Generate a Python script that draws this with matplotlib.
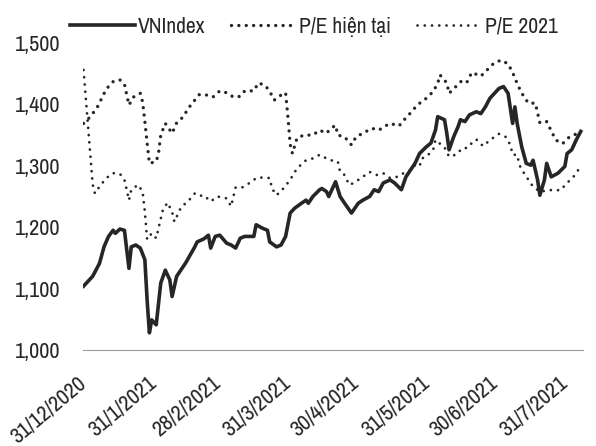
import pandas as pd
import matplotlib.pyplot as plt

plt.rcParams['font.family'] = ['Archivo Narrow', 'DejaVu Sans']

# VNIndex
vn_dates = ['2020-12-31', '2021-01-04', '2021-01-07', '2021-01-09', '2021-01-11', '2021-01-13',
            '2021-01-14', '2021-01-16', '2021-01-18', '2021-01-20', '2021-01-21', '2021-01-23',
            '2021-01-25', '2021-01-27', '2021-01-28', '2021-01-29', '2021-01-30', '2021-02-01',
            '2021-02-03', '2021-02-05', '2021-02-07', '2021-02-08', '2021-02-10', '2021-02-14',
            '2021-02-18', '2021-02-19', '2021-02-22', '2021-02-24', '2021-02-25', '2021-02-27',
            '2021-03-01', '2021-03-04', '2021-03-06', '2021-03-08', '2021-03-10', '2021-03-12',
            '2021-03-16', '2021-03-17', '2021-03-20', '2021-03-22', '2021-03-23', '2021-03-26',
            '2021-03-28', '2021-03-30', '2021-04-01', '2021-04-03', '2021-04-06', '2021-04-08',
            '2021-04-09', '2021-04-11', '2021-04-14', '2021-04-15', '2021-04-17', '2021-04-18',
            '2021-04-21', '2021-04-23', '2021-04-25', '2021-04-28', '2021-05-01', '2021-05-03',
            '2021-05-06', '2021-05-08', '2021-05-10', '2021-05-12', '2021-05-15', '2021-05-17',
            '2021-05-20', '2021-05-22', '2021-05-24', '2021-05-26', '2021-05-28', '2021-05-31',
            '2021-06-02', '2021-06-04', '2021-06-05', '2021-06-08', '2021-06-09', '2021-06-10',
            '2021-06-12', '2021-06-14', '2021-06-15', '2021-06-17', '2021-06-19', '2021-06-22',
            '2021-06-24', '2021-06-26', '2021-06-28', '2021-06-30', '2021-07-02', '2021-07-04',
            '2021-07-06', '2021-07-08', '2021-07-09', '2021-07-10', '2021-07-12', '2021-07-14',
            '2021-07-16', '2021-07-17', '2021-07-19', '2021-07-20', '2021-07-22', '2021-07-23',
            '2021-07-25', '2021-07-28', '2021-07-31', '2021-08-01', '2021-08-03', '2021-08-05',
            '2021-08-07']
vn_values = [1104, 1120, 1141, 1168, 1185, 1195,
             1190, 1197, 1195, 1133, 1168, 1171,
             1166, 1147, 1081, 1028, 1049, 1041,
             1109, 1130, 1114, 1087, 1120, 1142,
             1168, 1176, 1181, 1187, 1166, 1185,
             1187, 1174, 1171, 1166, 1182, 1185,
             1185, 1204, 1198, 1195, 1176, 1168,
             1171, 1185, 1223, 1231, 1239, 1244,
             1239, 1250, 1261, 1263, 1258, 1250,
             1274, 1250, 1239, 1223, 1239, 1244,
             1250, 1261, 1258, 1272, 1277, 1272,
             1261, 1282, 1293, 1304, 1320, 1331,
             1337, 1358, 1380, 1375, 1353, 1326,
             1347, 1364, 1375, 1372, 1383, 1388,
             1385, 1396, 1410, 1418, 1426, 1429,
             1418, 1369, 1396, 1369, 1331, 1304,
             1301, 1309, 1277, 1252, 1277, 1304,
             1282, 1288, 1299, 1320, 1326, 1342,
             1356]

# P/E hien tai
pe_now_dates = ['2020-12-31', '2021-01-03', '2021-01-06', '2021-01-08', '2021-01-10', '2021-01-13',
                '2021-01-16', '2021-01-18', '2021-01-19', '2021-01-20', '2021-01-22', '2021-01-25',
                '2021-01-26', '2021-01-27', '2021-01-28', '2021-01-29', '2021-02-01', '2021-02-02',
                '2021-02-03', '2021-02-05', '2021-02-08', '2021-02-10', '2021-02-13', '2021-02-15',
                '2021-02-18', '2021-02-20', '2021-02-24', '2021-02-26', '2021-03-01', '2021-03-04',
                '2021-03-07', '2021-03-10', '2021-03-12', '2021-03-16', '2021-03-18', '2021-03-21',
                '2021-03-23', '2021-03-25', '2021-03-29', '2021-03-30', '2021-03-31', '2021-04-01',
                '2021-04-02', '2021-04-04', '2021-04-07', '2021-04-11', '2021-04-14', '2021-04-17',
                '2021-04-19', '2021-04-21', '2021-04-22', '2021-04-25', '2021-04-28', '2021-04-30',
                '2021-05-03', '2021-05-07', '2021-05-10', '2021-05-13', '2021-05-15', '2021-05-19',
                '2021-05-21', '2021-05-24', '2021-05-27', '2021-05-31', '2021-06-03', '2021-06-05',
                '2021-06-06', '2021-06-09', '2021-06-10', '2021-06-13', '2021-06-16', '2021-06-18',
                '2021-06-20', '2021-06-24', '2021-06-27', '2021-06-30', '2021-07-03', '2021-07-06',
                '2021-07-08', '2021-07-10', '2021-07-11', '2021-07-13', '2021-07-15', '2021-07-18',
                '2021-07-19', '2021-07-20', '2021-07-23', '2021-07-25', '2021-07-27', '2021-07-30',
                '2021-08-02', '2021-08-07']
pe_now_values = [1369, 1380, 1395, 1410, 1425, 1437,
                 1440, 1433, 1416, 1399, 1412, 1418,
                 1404, 1372, 1337, 1304, 1307, 1320,
                 1350, 1369, 1353, 1370, 1380, 1393,
                 1407, 1416, 1415, 1412, 1422, 1419,
                 1412, 1413, 1422, 1422, 1435, 1431,
                 1421, 1407, 1418, 1419, 1380, 1335,
                 1320, 1345, 1350, 1350, 1358, 1353,
                 1361, 1366, 1350, 1347, 1334, 1347,
                 1353, 1361, 1358, 1365, 1369, 1365,
                 1374, 1386, 1399, 1410, 1421, 1434,
                 1448, 1435, 1418, 1429, 1440, 1437,
                 1452, 1446, 1457, 1468, 1472, 1466,
                 1452, 1434, 1426, 1412, 1402, 1402,
                 1386, 1370, 1372, 1357, 1342, 1336,
                 1347, 1355]

# P/E 2021
pe_21_dates = ['2020-12-31', '2021-01-04', '2021-01-05', '2021-01-07', '2021-01-10', '2021-01-13',
               '2021-01-16', '2021-01-18', '2021-01-19', '2021-01-20', '2021-01-21', '2021-01-24',
               '2021-01-26', '2021-01-27', '2021-01-28', '2021-01-30', '2021-02-01', '2021-02-02',
               '2021-02-03', '2021-02-04', '2021-02-06', '2021-02-08', '2021-02-09', '2021-02-12',
               '2021-02-15', '2021-02-18', '2021-02-20', '2021-02-22', '2021-02-25', '2021-02-28',
               '2021-03-04', '2021-03-06', '2021-03-07', '2021-03-08', '2021-03-11', '2021-03-15',
               '2021-03-17', '2021-03-20', '2021-03-23', '2021-03-24', '2021-03-26', '2021-03-29',
               '2021-04-01', '2021-04-03', '2021-04-06', '2021-04-08', '2021-04-11', '2021-04-14',
               '2021-04-17', '2021-04-19', '2021-04-22', '2021-04-23', '2021-04-25', '2021-04-27',
               '2021-04-29', '2021-05-03', '2021-05-06', '2021-05-09', '2021-05-12', '2021-05-15',
               '2021-05-18', '2021-05-21', '2021-05-24', '2021-05-26', '2021-05-28', '2021-05-29',
               '2021-05-31', '2021-06-03', '2021-06-04', '2021-06-08', '2021-06-10', '2021-06-13',
               '2021-06-16', '2021-06-18', '2021-06-20', '2021-06-22', '2021-06-25', '2021-06-28',
               '2021-07-02', '2021-07-05', '2021-07-07', '2021-07-08', '2021-07-10', '2021-07-11',
               '2021-07-13', '2021-07-15', '2021-07-17', '2021-07-20', '2021-07-26', '2021-07-29',
               '2021-08-01', '2021-08-04', '2021-08-07']
pe_21_values = [1456, 1270, 1255, 1266, 1280, 1288,
                1287, 1277, 1261, 1244, 1261, 1269,
                1258, 1225, 1180, 1190, 1182, 1198,
                1214, 1229, 1240, 1225, 1209, 1233,
                1242, 1255, 1251, 1252, 1242, 1250,
                1247, 1234, 1250, 1265, 1265, 1274,
                1280, 1281, 1280, 1263, 1252, 1263,
                1277, 1290, 1303, 1309, 1312, 1318,
                1312, 1309, 1307, 1290, 1285, 1269,
                1272, 1282, 1290, 1285, 1288, 1280,
                1282, 1288, 1293, 1301, 1299, 1312,
                1315, 1326, 1342, 1330, 1315, 1318,
                1329, 1329, 1337, 1343, 1332, 1342,
                1352, 1347, 1334, 1318, 1318, 1301,
                1288, 1277, 1266, 1258, 1261, 1260,
                1272, 1283, 1299]

tick_dates = ['2020-12-31', '2021-01-31', '2021-02-28', '2021-03-31',
              '2021-04-30', '2021-05-31', '2021-06-30', '2021-07-31']
y_ticks = [1000, 1100, 1200, 1300, 1400, 1500]

ink = '#262626'
fig = plt.figure(figsize=(5.96, 4.46), dpi=100)
ax = fig.add_axes([83 / 596, 1 - 350 / 446, 500 / 596, 307 / 446])

ax.plot(pd.to_datetime(vn_dates), vn_values, color=ink, lw=2.6, label='VNIndex')
ax.plot(pd.to_datetime(pe_now_dates), pe_now_values, color=ink, lw=2.4,
        linestyle=(0, (0.01, 2.2)), dash_capstyle='round', label='P/E hiện tại')
ax.plot(pd.to_datetime(pe_21_dates), pe_21_values, color=ink, lw=2.0,
        linestyle=(0, (0.01, 2.6)), dash_capstyle='round', label='P/E 2021')

ax.set_ylim(1000, 1500)
ax.set_xlim(pd.Timestamp('2020-12-30 18:00'), pd.Timestamp('2021-08-08'))
ax.set_yticks(y_ticks)
ax.set_yticklabels([f'{v:,}' for v in y_ticks])
ticks = pd.to_datetime(tick_dates)
ax.set_xticks(ticks)
ax.set_xticklabels([f'{d.day}/{d.month}/{d.year}' for d in ticks],
                   rotation=40, ha='right', rotation_mode='anchor', va='center')
ax.tick_params(axis='both', length=0, labelsize=16, colors=ink)
ax.tick_params(axis='y', pad=16)
ax.tick_params(axis='x', pad=22)

for s in ['top', 'right', 'left']:
    ax.spines[s].set_visible(False)
ax.spines['bottom'].set_color('#9a9a9a')
ax.spines['bottom'].set_linestyle((0, (1, 1)))
ax.spines['bottom'].set_linewidth(0.8)

fig.legend(loc='center', bbox_to_anchor=(314 / 596, 1 - 27 / 446), ncol=3, frameon=False,
           fontsize=15.5, handlelength=3.0, handletextpad=0.15, columnspacing=1.2,
           labelcolor=ink)

fig.savefig('out.png', dpi=100)
